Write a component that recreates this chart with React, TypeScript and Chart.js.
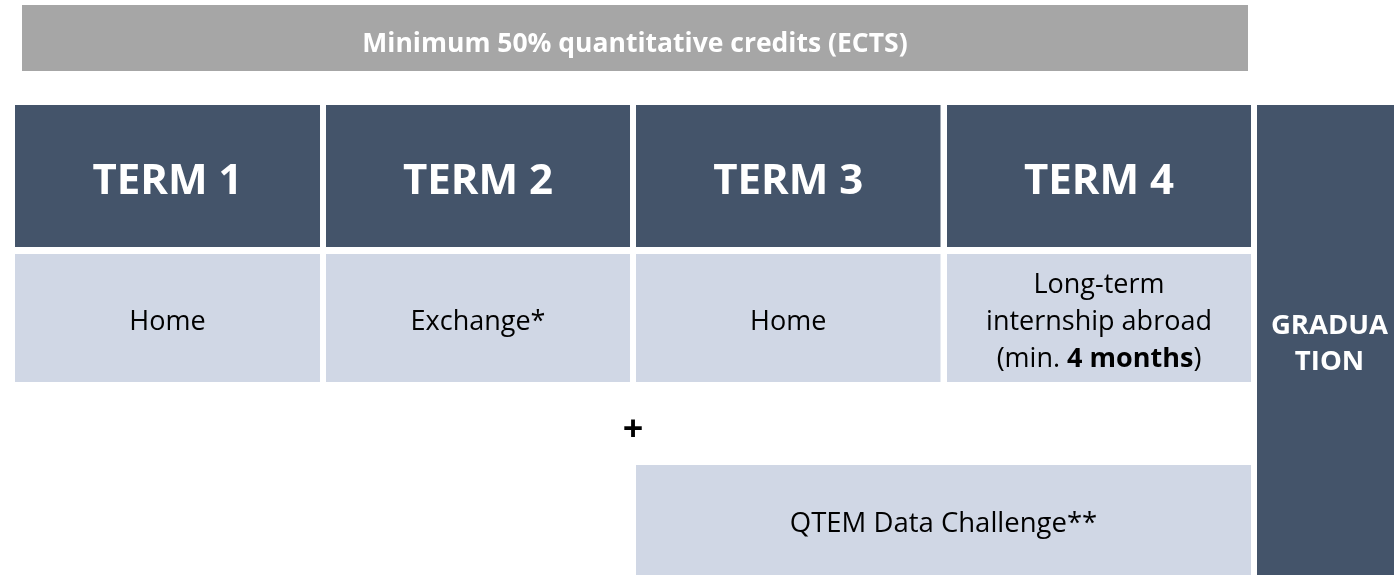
import React, { useEffect, useRef } from "react";
import { Chart, registerables } from "chart.js";

Chart.register(...registerables);

// ---- Diagram data ----
const headerLabel = "Minimum 50% quantitative credits (ECTS)";
const termNames = ["TERM 1", "TERM 2", "TERM 3", "TERM 4"];
const termActivities: string[][] = [
  ["Home"],
  ["Exchange*"],
  ["Home"],
  ["Long-term", "internship abroad", "(min. <b>4 months</b>)"],
];
const graduationLabel = ["GRADUA", "TION"];
const plusLabel = "+";
const extraLabel = "QTEM Data Challenge**";
const extraTermRange = [2, 3]; // spans TERM 3 .. TERM 4 (indices)

// column spans along the x axis
const termStarts = [15, 326, 636, 947];
const termEnds = [320, 630, 940.5, 1251];
const headerSpan = [22, 1248];
const graduationSpan = [1257, 1400];
// row bands along the y axis
const headerBand = [5, 71];
const termBand = [105, 247];
const activityBand = [254, 382];
const extraBand = [465, 580];
const graduationBand = [105, 580];

const DARK = "#44546a";
const LIGHT = "#d0d7e5";
const GREY = "#a6a6a6";
const FONT = "'Open Sans', 'Noto Sans', sans-serif";

function rect(x0: number, x1: number, y0: number, y1: number) {
  return [
    { x: x0, y: y0 },
    { x: x1, y: y0 },
    { x: x1, y: y1 },
    { x: x0, y: y1 },
    { x: x0, y: y0 },
  ];
}

function boxDataset(label: string, pts: any[], color: string) {
  return {
    label,
    data: pts,
    type: "line" as const,
    borderWidth: 0,
    borderColor: color,
    backgroundColor: color,
    pointRadius: 0,
    fill: "shape",
    tension: 0,
  };
}

function drawRich(
  ctx: CanvasRenderingContext2D,
  text: string,
  cx: number,
  cy: number,
  size: number,
  color: string,
  allBold = false
) {
  const parts = text.split(/(<b>|<\/b>)/);
  const segs: { t: string; bold: boolean }[] = [];
  let bold = allBold;
  parts.forEach((p) => {
    if (p === "<b>") bold = true;
    else if (p === "</b>") bold = allBold;
    else if (p.length) segs.push({ t: p, bold });
  });
  let total = 0;
  segs.forEach((s) => {
    ctx.font = `${s.bold ? "bold " : ""}${size}px ${FONT}`;
    total += ctx.measureText(s.t).width;
  });
  let x = cx - total / 2;
  ctx.textAlign = "left";
  ctx.textBaseline = "middle";
  ctx.fillStyle = color;
  segs.forEach((s) => {
    ctx.font = `${s.bold ? "bold " : ""}${size}px ${FONT}`;
    ctx.fillText(s.t, x, cy);
    x += ctx.measureText(s.t).width;
  });
}

const labelPlugin = {
  id: "boxLabels",
  afterDatasetsDraw(chart: any) {
    const { ctx, scales } = chart;
    const X = scales.x;
    const Y = scales.y;
    const px = (v: number) => X.getPixelForValue(v);
    const py = (v: number) => Y.getPixelForValue(v);
    ctx.save();
    // header
    drawRich(
      ctx,
      headerLabel,
      (px(headerSpan[0]) + px(headerSpan[1])) / 2,
      (py(headerBand[0]) + py(headerBand[1])) / 2 + 6,
      26.5,
      "#ffffff",
      true
    );
    // terms
    termNames.forEach((name, i) => {
      const cx = (px(termStarts[i]) + px(termEnds[i])) / 2;
      drawRich(ctx, name, cx, (py(termBand[0]) + py(termBand[1])) / 2 + 6, 42, "#ffffff", true);
      const lines = termActivities[i];
      const lh = 37;
      const cy = (py(activityBand[0]) + py(activityBand[1])) / 2 + 4;
      lines.forEach((ln, j) => {
        drawRich(ctx, ln, cx, cy + (j - (lines.length - 1) / 2) * lh, 27, "#000000");
      });
    });
    // graduation
    const gcx = (px(graduationSpan[0]) + px(1394)) / 2 + 4;
    const gcy = (py(graduationBand[0]) + py(575)) / 2 + 4;
    graduationLabel.forEach((ln, j) => {
      drawRich(ctx, ln, gcx, gcy + (j - 0.5) * 36, 27.5, "#ffffff", true);
    });
    // plus
    drawRich(
      ctx,
      plusLabel,
      px(termStarts[extraTermRange[0]]) - 3,
      (py(activityBand[1]) + py(extraBand[0])) / 2 + 7,
      36,
      "#000000",
      true
    );
    // extra
    const ecx = (px(termStarts[extraTermRange[0]]) + px(termEnds[extraTermRange[1]])) / 2;
    drawRich(ctx, extraLabel, ecx, (py(extraBand[0]) + py(575)) / 2 + 4, 27.5, "#000000");
    ctx.restore();
  },
};

export default function App() {
  const ref = useRef<HTMLCanvasElement | null>(null);
  useEffect(() => {
    if (!ref.current) return;
    const datasets: any[] = [];
    datasets.push(boxDataset("header", rect(headerSpan[0], headerSpan[1], headerBand[0], headerBand[1]), GREY));
    termNames.forEach((n, i) => {
      datasets.push(boxDataset(n, rect(termStarts[i], termEnds[i], termBand[0], termBand[1]), DARK));
      datasets.push(boxDataset(n + " activity", rect(termStarts[i], termEnds[i], activityBand[0], activityBand[1]), LIGHT));
    });
    datasets.push(boxDataset("graduation", rect(graduationSpan[0], graduationSpan[1], graduationBand[0], graduationBand[1]), DARK));
    datasets.push(
      boxDataset(
        "extra",
        rect(termStarts[extraTermRange[0]], termEnds[extraTermRange[1]], extraBand[0], extraBand[1]),
        LIGHT
      )
    );
    const chart = new Chart(ref.current, {
      type: "line",
      data: { datasets },
      options: {
        animation: false,
        responsive: false,
        maintainAspectRatio: false,
        devicePixelRatio: 1,
        layout: { padding: 0 },
        plugins: { legend: { display: false }, tooltip: { enabled: false }, title: { display: false } },
        scales: {
          x: { type: "linear", min: 0, max: 1394, display: false },
          y: { type: "linear", min: 0, max: 575, reverse: true, display: false },
        },
      } as any,
      plugins: [labelPlugin],
    });
    return () => chart.destroy();
  }, []);
  return (
    <div style={{ position: "fixed", left: 0, top: 0, width: 1394, height: 575, background: "#ffffff" }}>
      <canvas ref={ref} width={1394} height={575} style={{ width: 1394, height: 575 }} />
    </div>
  );
}
